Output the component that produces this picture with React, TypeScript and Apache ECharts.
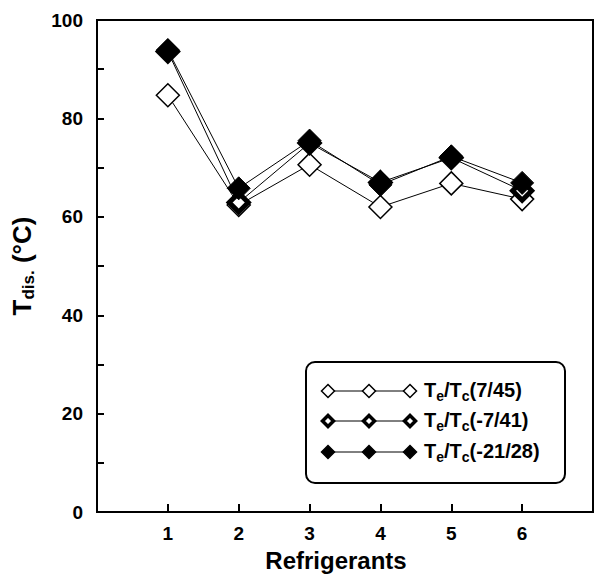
import React, { useEffect, useRef } from "react";
import * as echarts from "echarts";

const categories = [1, 2, 3, 4, 5, 6];
const seriesNames = ["Te/Tc(7/45)", "Te/Tc(-7/41)", "Te/Tc(-21/28)"];
const legendLabels = ["T{sub|e}/T{sub|c}(7/45)", "T{sub|e}/T{sub|c}(-7/41)", "T{sub|e}/T{sub|c}(-21/28)"];
const s745 = [84.7, 62.4, 70.6, 62.0, 66.8, 63.6];
const s741 = [93.6, 62.9, 75.0, 67.0, 72.0, 65.3];
const s2128 = [93.9, 65.8, 75.5, 66.5, 72.3, 66.9];
const yTicks = [0, 20, 40, 60, 80, 100];

const FONT = "'Liberation Sans', Arial, Helvetica, sans-serif";

function diamondPts(cx: number, cy: number, r: number) {
  return [
    [cx, cy - r],
    [cx + r, cy],
    [cx, cy + r],
    [cx - r, cy],
  ];
}

export default function App() {
  const ref = useRef<HTMLDivElement>(null);
  useEffect(() => {
    if (!ref.current) return;
    const chart = echarts.init(ref.current, null, { renderer: "svg" });

    const styles = [
      { color: "#fff", borderColor: "#000", borderWidth: 1.5 },
      { color: "#fff", borderColor: "#000", borderWidth: 5 },
      { color: "#000", borderColor: "#000", borderWidth: 1 },
    ];
    const dataSets = [s745, s741, s2128];

    const legendRows = [391, 421, 452];
    const symX = [328, 369, 410];
    const legendGraphics: any[] = [
      {
        type: "rect",
        shape: { x: 306, y: 362, width: 259, height: 121, r: 9 },
        style: { fill: "#fff", stroke: "#000", lineWidth: 2 },
        z: 100,
      },
    ];
    legendRows.forEach((y, i) => {
      legendGraphics.push({
        type: "line",
        shape: { x1: symX[0], y1: y, x2: symX[2], y2: y },
        style: { stroke: "#000", lineWidth: 1 },
        z: 101,
      });
      symX.forEach((x) => {
        const st = styles[i];
        const r = i === 1 ? 5.5 : 6.5;
        legendGraphics.push({
          type: "polygon",
          shape: { points: diamondPts(x, y, r) },
          style: {
            fill: st.color,
            stroke: "#000",
            lineWidth: i === 1 ? 3.5 : 1.5,
          },
          z: 102,
        });
      });
      legendGraphics.push({
        type: "text",
        x: 424,
        y: y - 1,
        style: {
          text: legendLabels[i],
          font: `bold 20px ${FONT}`,
          fill: "#000",
          verticalAlign: "middle",
          rich: {
            sub: {
              font: `bold 14px ${FONT}`,
              fill: "#000",
              padding: [12, 0, 0, 0],
            },
          },
        },
        z: 102,
      });
    });

    chart.setOption({
      animation: false,
      backgroundColor: "#fff",
      grid: {
        left: 97,
        right: 5,
        top: 20,
        bottom: 59,
        show: true,
        borderColor: "#000",
        borderWidth: 2,
        backgroundColor: "transparent",
      },
      xAxis: {
        type: "value",
        min: 0,
        max: 7,
        interval: 1,
        name: "Refrigerants",
        nameLocation: "middle",
        nameGap: 35,
        nameTextStyle: {
          fontFamily: FONT,
          fontWeight: "bold",
          fontSize: 24,
          color: "#000",
          padding: [0, 18, 0, 0],
        },
        axisLine: { show: true, lineStyle: { color: "#000", width: 2 } },
        axisTick: { show: true, inside: true, length: 8, lineStyle: { color: "#000", width: 2 } },
        axisLabel: {
          fontFamily: FONT,
          fontWeight: "bold",
          fontSize: 19,
          color: "#000",
          margin: 12,
          formatter: (v: number) => (categories.indexOf(v) >= 0 ? String(v) : ""),
        },
        splitLine: { show: false },
      },
      yAxis: {
        type: "value",
        min: 0,
        max: 100,
        interval: 10,
        name: "T{sub|dis.} (°C)",
        nameLocation: "middle",
        nameGap: 60,
        nameTextStyle: {
          fontFamily: FONT,
          fontWeight: "bold",
          fontSize: 26,
          color: "#000",
          rich: {
            sub: { fontFamily: FONT, fontWeight: "bold", fontSize: 17, color: "#000", padding: [14, 0, 0, 0] },
          },
        },
        axisLine: { show: true, lineStyle: { color: "#000", width: 2 } },
        axisTick: { show: true, inside: true, length: 7, lineStyle: { color: "#000", width: 2 } },
        axisLabel: {
          fontFamily: FONT,
          fontWeight: "bold",
          fontSize: 19,
          color: "#000",
          margin: 14,
          formatter: (v: number) => (yTicks.indexOf(v) >= 0 ? String(v) : ""),
        },
        splitLine: { show: false },
      },
      series: dataSets.map((d, i) => ({
        name: seriesNames[i],
        type: "line",
        data: categories.map((c, k) => [c, d[k]]),
        symbol: "diamond",
        symbolSize: i === 1 ? 19 : 23,
        lineStyle: { color: "#000", width: 1 },
        itemStyle: styles[i],
        z: 3 + i,
      })),
      graphic: legendGraphics,
    });
    return () => chart.dispose();
  }, []);
  return (
    <div
      ref={ref}
      style={{ position: "fixed", left: 0, top: 0, width: 598, height: 577, background: "#fff" }}
    />
  );
}
